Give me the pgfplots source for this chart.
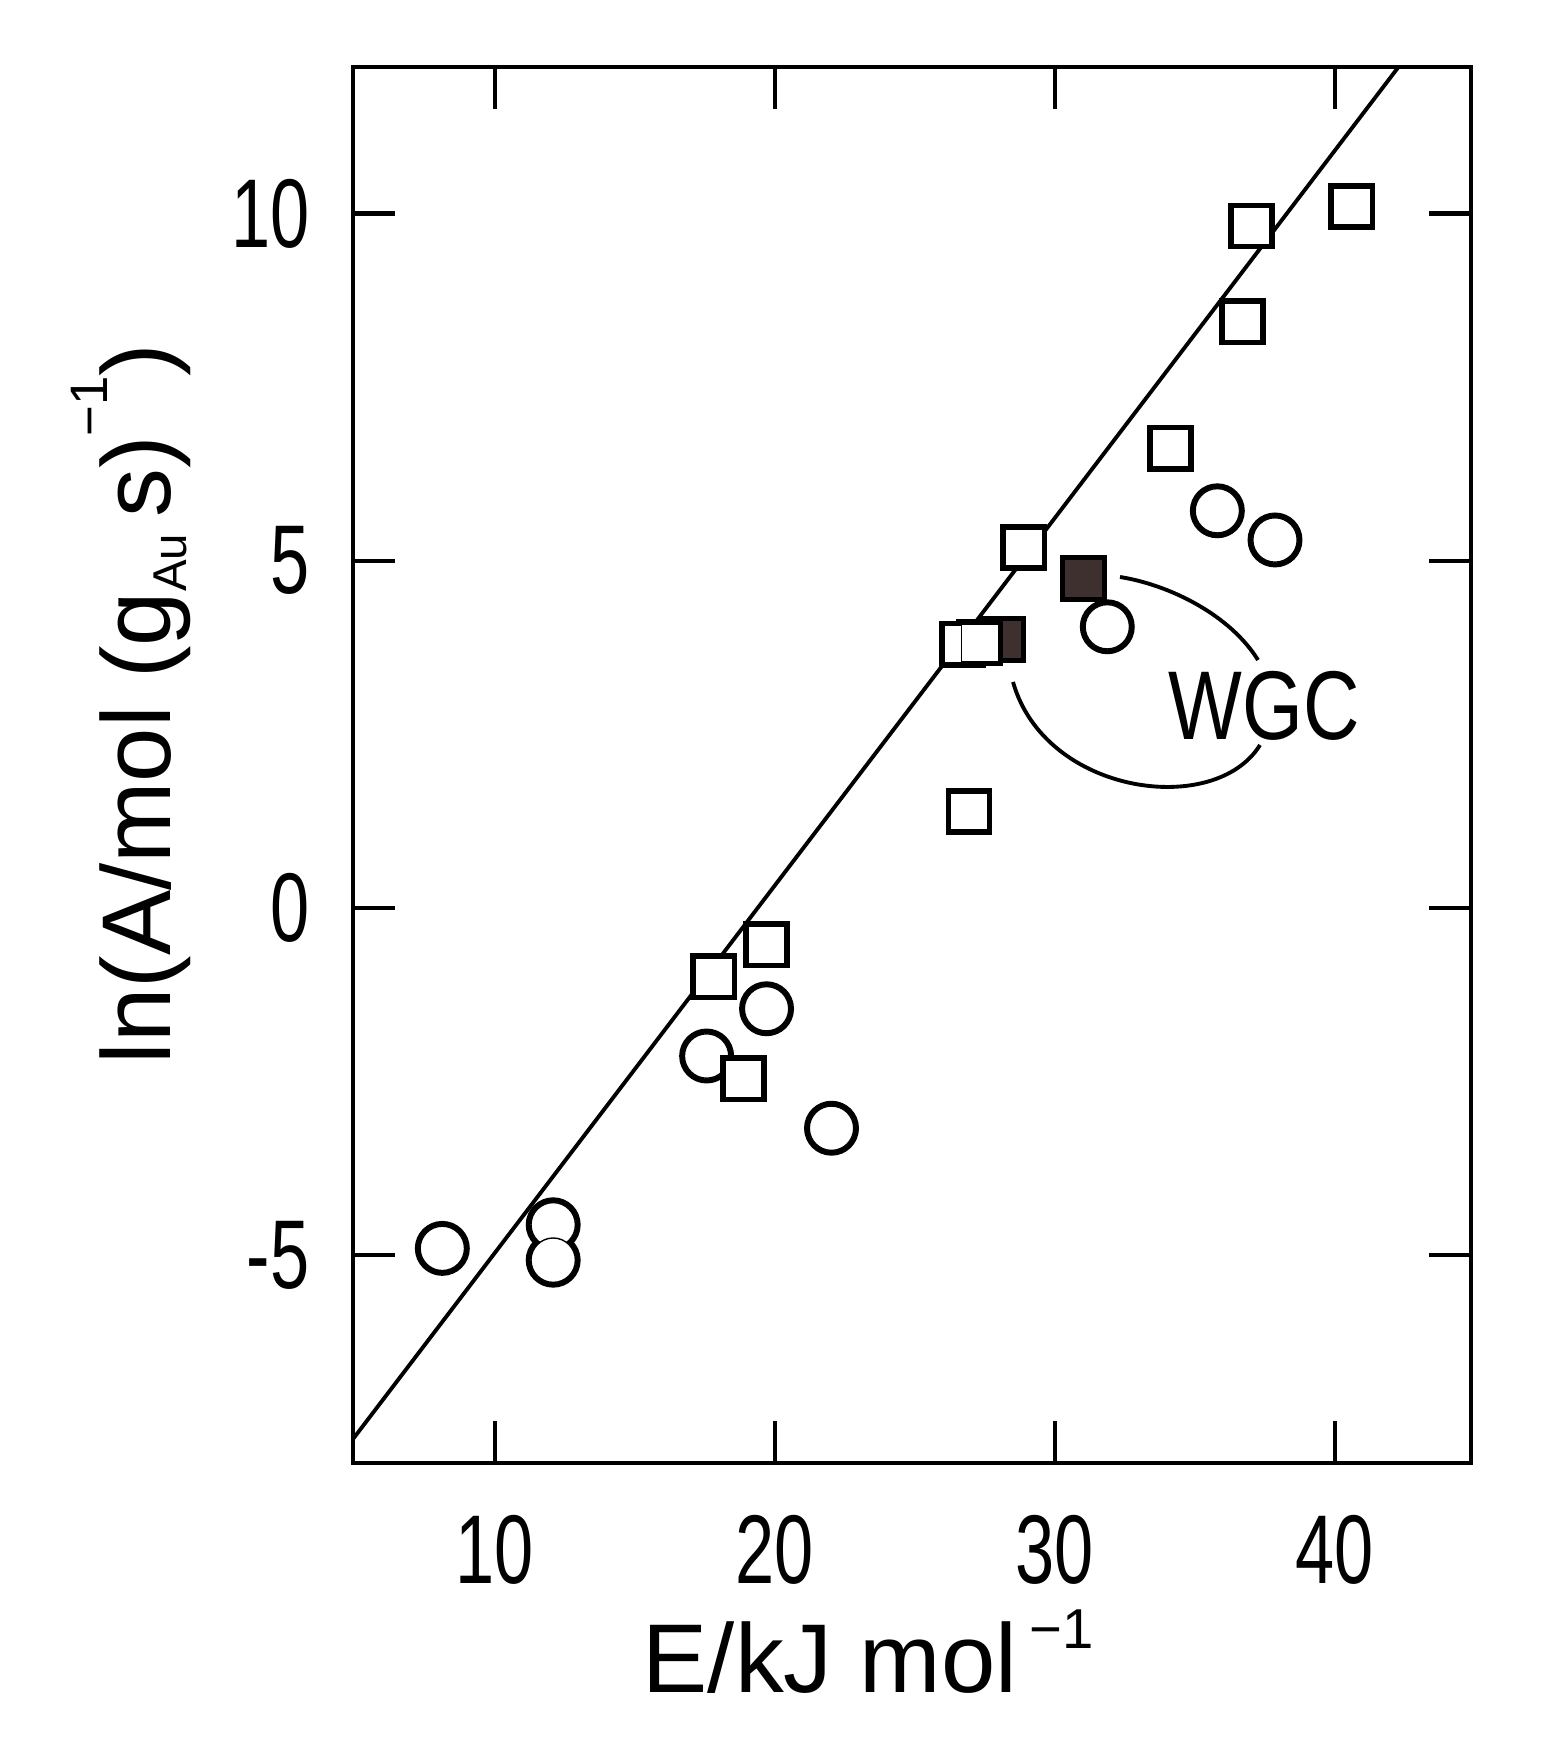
\documentclass[border=0pt]{standalone}
\usepackage{fontspec}
\setmainfont{Liberation Sans}
\newfontfamily\narrowfont{Liberation Sans}[FakeStretch=0.72]
\newfontfamily\wgcfont{Liberation Sans}[FakeStretch=0.8]
\usepackage{pgfplots}
\usepackage{pgfplotstable}
\pgfplotsset{compat=1.18}
\definecolor{darkfill}{RGB}{62,48,46}

% open circles
\pgfplotstableread{
x y
8.12 -4.90
12.08 -4.56
12.08 -5.07
17.56 -2.13
19.70 -1.45
22.02 -3.17
31.87 4.05
35.80 5.72
37.86 5.30
}\circdata

% open squares
\pgfplotstableread{
x y
17.82 -0.99
19.70 -0.53
18.87 -2.46
26.93 1.39
26.71 3.80
27.32 3.82
28.89 5.19
34.13 6.62
36.70 8.44
37.02 9.82
40.60 10.10
}\sqdata

% filled squares (WGC)
\pgfplotstableread{
x y
28.14 3.87
31.01 4.75
}\fsqdata

% fitted line
\pgfplotstableread{
x y
4.93 -7.645
42.27 12.11
}\linedata

\begin{document}
\begin{tikzpicture}
\useasboundingbox (-3.53,-2.75) rectangle (11.97,14.63);
\begin{axis}[
  at={(0,0)}, anchor=south west,
  scale only axis, width=11.18cm, height=13.96cm,
  xmin=4.93, xmax=44.86, ymin=-7.99, ymax=12.11,
  xtick={10,20,30,40}, ytick={-5,0,5,10},
  tick align=inside, xtick pos=both, ytick pos=both,
  xticklabel pos=lower, yticklabel pos=left,
  major tick length=0.42cm,
  axis line style={line width=1.4pt},
  every tick/.style={black, line width=1.2pt},
  /pgf/number format/assume math mode=true,
  tick label style={font=\narrowfont\fontsize{27.8}{30}\selectfont},
  xticklabel style={inner sep=0pt, yshift=-0.52cm},
  yticklabel style={inner sep=0pt, xshift=-0.43cm},
]
\addplot[black, line width=1.1pt] table {\linedata};
% circles: outline pass, then inset white pass (merged outlines)
\addplot[only marks, mark=*, mark size=0.25cm,
  mark options={draw=black, fill=white, line width=1.4pt}] table {\circdata};
\addplot[only marks, mark=*, mark size=0.222cm,
  mark options={draw=none, fill=white}] table {\circdata};
\addplot[only marks, mark=square*, mark size=0.21cm,
  mark options={draw=black, fill=darkfill, line width=1.4pt}] table {\fsqdata};
% open squares: outline pass, then inset white pass
\addplot[only marks, mark=square*, mark size=0.21cm,
  mark options={draw=black, fill=white, line width=1.4pt}] table {\sqdata};
\addplot[only marks, mark=square*, mark size=0.185cm,
  mark options={draw=none, fill=white}] table {\sqdata};
\end{axis}
% annotation arcs and label
\draw[line width=1.1pt] (7.67,8.86) .. controls (8.17,8.78) and (8.77,8.48) .. (9.05,8.03);
\draw[line width=1.1pt] (6.60,7.81) .. controls (6.92,6.68) and (8.62,6.45) .. (9.07,7.18);
\node[anchor=base west, inner sep=0pt, font=\wgcfont\fontsize{27.8}{30}\selectfont] at (8.15,7.23) {WGC};
% axis labels
\node[anchor=base west, inner sep=0pt, font=\fontsize{27.8}{30}\selectfont] at (2.89,-2.29)
  {E/kJ mol\kern0.12cm\raisebox{0.44cm}{\fontsize{16}{17}\selectfont −1}};
\node[rotate=90, anchor=base, inner sep=0pt, font=\fontsize{27.8}{30}\selectfont] at (-1.83,7.59)
  {ln(A/mol (g\raisebox{-0.17cm}{\fontsize{13.5}{15}\selectfont Au}\,s)\raisebox{0.62cm}{\fontsize{15}{17}\selectfont −1})};
\end{tikzpicture}
\end{document}
